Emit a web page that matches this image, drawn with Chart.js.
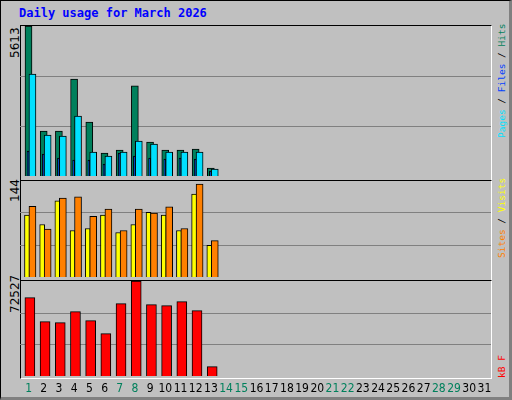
<!DOCTYPE html><html><head><meta charset="utf-8">
<script src="https://cdn.jsdelivr.net/npm/chart.js@4/dist/chart.umd.min.js"></script>
<style>
body{margin:0;background:#fff;}
#f{position:absolute;left:0;top:0;width:508px;height:396px;background:#c0c0c0;border-top:1px solid #000;border-left:1px solid #000;border-right:3px solid #808080;border-bottom:3px solid #808080;}
.p{position:absolute;left:20px;width:472px;border:1px solid #000;border-right:1px solid #fff;border-bottom:1px solid #fff;box-sizing:border-box}
canvas{position:absolute}
.t{position:absolute;font:bold 12px "DejaVu Sans Mono",monospace;color:#0000ff;left:19px;top:6px}
.r{position:absolute;font:9.5px "DejaVu Sans Mono",monospace;transform-origin:0 0;transform:rotate(-90deg);white-space:nowrap}
.l{position:absolute;font:12px "DejaVu Sans",sans-serif;color:#000;transform-origin:0 0;transform:rotate(-90deg);white-space:nowrap}
</style></head><body>
<div id="f"></div>
<div class="t">Daily usage for March 2026</div>
<div class="p" style="top:25px;height:156px"></div>
<div class="p" style="top:180px;height:101px"></div>
<div class="p" style="top:280px;height:99px"></div>
<div class="l" style="left:8px;top:58px">5613</div>
<div class="l" style="left:8px;top:202px">144</div>
<div class="l" style="left:8px;top:313px">72527</div>
<div class="r" style="left:496px;top:138px"><span style="color:#00e0ff">Pages</span> / <span style="color:#0040ff">Files</span> / <span style="color:#00805c">Hits</span></div>
<div class="r" style="left:496px;top:258px"><span style="color:#ff8000">Sites</span> / <span style="color:#ffff00">Visits</span></div>
<div class="r" style="left:496px;top:378px"><span style="color:#ff0000">kB F</span></div>
<canvas id="c1" style="left:20px;top:26px" width="471" height="150"></canvas>
<canvas id="c2" style="left:20px;top:180px" width="471" height="97"></canvas>
<canvas id="c3" style="left:20px;top:281px" width="471" height="119"></canvas>
<script>
const days=[1,2,3,4,5,6,7,8,9,10,11,12,13];
const hits=[5613,1683,1683,3630,2020,860,970,3370,1270,970,970,1010,300];
const files=[935,823,673,598,598,449,860,748,673,636,673,636,187];
const pages=[3815,1533,1496,2244,898,748,898,1309,1197,898,898,898,262];
const visits=[92,78,113,69,72,92,66,78,96,92,69,123,47];
const sites=[105,71,117,119,90,101,69,101,95,104,72,138,54];
const kb=[59800,41500,40700,49100,42300,32400,55200,72527,54500,53700,56800,49900,7200];
const dayLabels=Array.from({length:31},(_,i)=>String(i+1));
const weekend=[1,7,8,14,15,21,22,28,29];
const maxes=[5613,144,72527];
const gridPlugin={id:'g',beforeDatasetsDraw(ch){const y=ch.scales.y,c=ch.ctx,ca=ch.chartArea;c.save();c.strokeStyle='#808080';c.lineWidth=1;
 [1,2].forEach(k=>{const py=Math.round(y.getPixelForValue(y.max*k/3))+0.5;c.beginPath();c.moveTo(ca.left,py);c.lineTo(ca.right,py);c.stroke();});c.restore();}};
const labelPlugin={id:'lab',afterDraw(ch){const x=ch.scales.x,c=ch.ctx;c.save();c.font='12px "DejaVu Sans Condensed",sans-serif';c.textAlign='center';c.textBaseline='middle';
 dayLabels.forEach((t,i)=>{c.fillStyle=weekend.includes(i+1)?'#00805c':'#000';c.fillText(t,x.getPixelForValue(i+1)+1,108);});c.restore();}};
function ds(vals,off,w,col,order){return{data:vals.map((v,i)=>({x:days[i]+off,y:v})),backgroundColor:col,borderColor:'#000',borderWidth:1,barThickness:w,order:order,borderSkipped:'bottom',grouped:false};}
function mk(id,datasets,max,extra){return new Chart(document.getElementById(id),{type:'bar',data:{datasets},plugins:[gridPlugin].concat(extra||[]),
 options:{responsive:false,animation:false,events:[],layout:{padding:{bottom:id==='c3'?24:0}},plugins:{legend:{display:false},tooltip:{enabled:false}},
 scales:{x:{type:'linear',offset:false,min:0.5,max:31.5,display:false},y:{min:0,max:max,display:false}}}});}
mk('c1',[ds(hits,0.06,7,'#00805c',3),ds(files,0.03,2,'#0040ff',2),ds(pages,0.32,7,'#00e0ff',1)],maxes[0]);
mk('c2',[ds(visits,-0.04,5,'#ffff00',2),ds(sites,0.32,7,'#ff8000',1)],maxes[1]);
mk('c3',[ds(kb,0.15,10,'#ff0000',1)],maxes[2],[labelPlugin]);
</script></body></html>
